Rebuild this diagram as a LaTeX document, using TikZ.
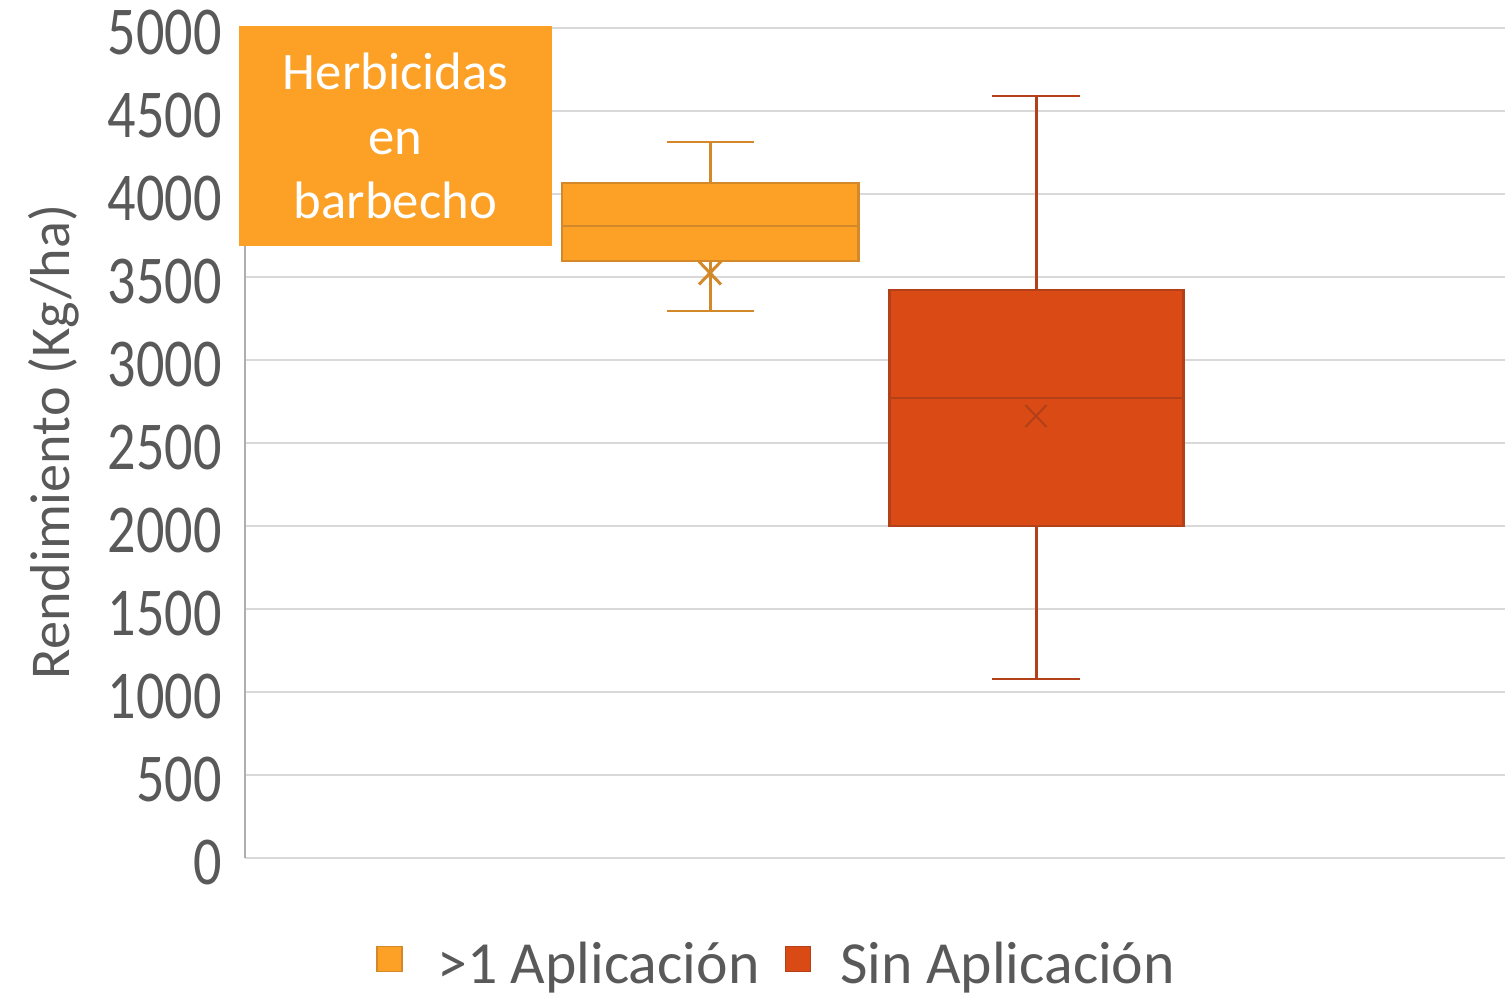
\documentclass[tikz,border=0pt]{standalone}
\usepackage{fontspec}
\setmainfont{Carlito}
\usetikzlibrary{shapes.misc}
\definecolor{txtgray}{HTML}{595959}
\definecolor{gridgray}{HTML}{D9D9D9}
\definecolor{boxorange}{HTML}{FDA026}
\definecolor{lineorange}{HTML}{D3892A}
\definecolor{boxred}{HTML}{DA4A14}
\definecolor{linered}{HTML}{B4401A}
\begin{document}
\begin{tikzpicture}[
  x = 0.02cm, y = -0.02cm,
  grid/.style = { draw = gridgray, line width = 1.6pt },
  ticklabel/.style = {
    anchor = east,
    inner sep = 0pt,
    text = txtgray,
    font = \fontsize{39}{44}\selectfont,
  },
  legendtext/.style = {
    anchor = base west,
    inner sep = 0pt,
    text = txtgray,
    font = \fontsize{34}{40}\selectfont,
  },
  whisker/.style = { line width = 1.7pt },
  boxplot/.style = { line width = 1.7pt },
  meanmark/.style = {
    cross out, draw, minimum width = 0.38cm, minimum height = 0.4cm,
    inner sep = 0pt,
  },
]
  \useasboundingbox (0, 0) rectangle (1505, 996);

  \foreach \v in {0, 500, ..., 5000} {
    \draw[grid] (245, {858 - 0.166*\v}) -- (1505, {858 - 0.166*\v});
    \node[ticklabel] (tick\v) at (222, {863 - 0.166*\v}) {\scalebox{0.82}[1]{\v}};
  }
  \draw[draw = gridgray!80!black, line width = 1.2pt] (245, 28) -- (245, 858);

  \node[rotate = 90, inner sep = 0pt, text = txtgray,
    font = \fontsize{32}{38}\selectfont] (ylabel) at (54, 442) {Rendimiento (Kg/ha)};
  \node[text = txtgray, inner sep = 0pt,
    font = \fontsize{32}{38}\selectfont] (cutlabel) at (-6, 775) {)};

  % >1 aplicacion
  \coordinate (oTop) at (710, 142);
  \coordinate (oBot) at (710, 311);
  \draw[whisker, lineorange] (oTop) -- (710, 183);
  \draw[whisker, lineorange] (710, 261) -- (oBot);
  \draw[whisker, lineorange] (667, 142) -- (754, 142);
  \draw[whisker, lineorange] (667, 311) -- (754, 311);
  \draw[boxplot, draw = lineorange, fill = boxorange] (562, 183) rectangle (858, 261);
  \draw[boxplot, lineorange] (562, 226) -- (858, 226);
  \node[meanmark, draw = lineorange, line width = 1.7pt] (oMean) at (710, 273) {};

  % sin aplicacion
  \coordinate (rTop) at (1036, 96);
  \coordinate (rBot) at (1036, 679);
  \draw[whisker, linered] (rTop) -- (1036, 290);
  \draw[whisker, linered] (1036, 526) -- (rBot);
  \draw[whisker, linered] (992, 96) -- (1080, 96);
  \draw[whisker, linered] (992, 679) -- (1080, 679);
  \draw[boxplot, draw = linered, fill = boxred] (889, 290) rectangle (1183, 526);
  \draw[boxplot, linered] (889, 398) -- (1183, 398);
  \node[meanmark, draw = linered, line width = 1.2pt] (rMean) at (1036, 416) {};

  \node[fill = boxorange, text = white, align = center,
    minimum width = 6.26cm, minimum height = 4.4cm, inner sep = 0pt,
    font = \fontsize{30}{36.9}\selectfont] (title) at (395.5, 136)
    {Herbicidas\\en\\barbecho};

  \node[draw = lineorange, fill = boxorange, line width = 1pt,
    minimum size = 0.5cm, inner sep = 0pt] (keyOrange) at (389.5, 959) {};
  \node[legendtext] (txtOrange) at (437, 983) {>1 Aplicación};
  \node[draw = linered, fill = boxred, line width = 1pt,
    minimum size = 0.5cm, inner sep = 0pt] (keyRed) at (798, 959) {};
  \node[legendtext] (txtRed) at (840, 983) {Sin Aplicación};
\end{tikzpicture}
\end{document}
